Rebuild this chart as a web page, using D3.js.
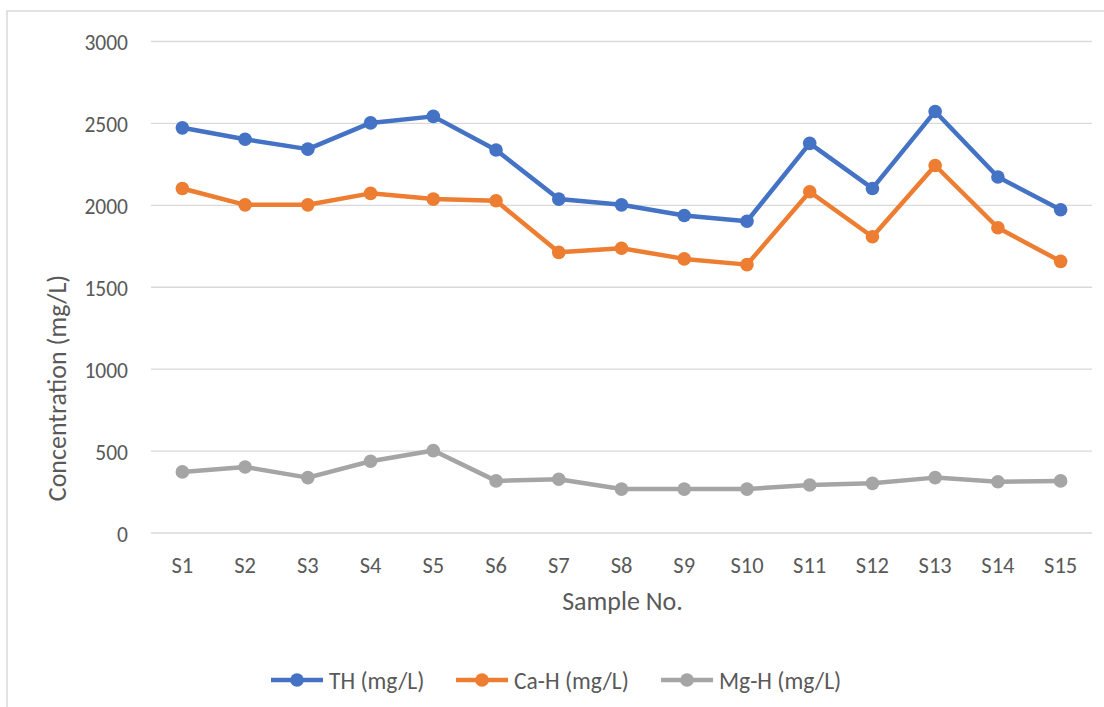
<!DOCTYPE html>
<html>
<head>
<meta charset="utf-8">
<script src="https://cdn.jsdelivr.net/npm/d3@7"></script>
<style>
  html, body { margin: 0; padding: 0; background: #ffffff; }
  svg { display: block; }
  text { font-family: Carlito, Calibri, Lato, sans-serif; fill: #595959; }
</style>
</head>
<body>
<svg id="chart" width="1104" height="707"></svg>
<script>
// Hardness of water samples S1–S15
const samples = ["S1","S2","S3","S4","S5","S6","S7","S8","S9","S10","S11","S12","S13","S14","S15"];
const totalHardness = [2470, 2400, 2340, 2500, 2540, 2335, 2035, 2000, 1935, 1900, 2375, 2100, 2570, 2170, 1970];
const calciumHardness = [2100, 2000, 2000, 2070, 2035, 2025, 1710, 1735, 1670, 1635, 2080, 1805, 2240, 1860, 1655];
const magnesiumHardness = [370, 400, 335, 435, 500, 315, 325, 265, 265, 265, 290, 300, 335, 310, 315];
const yTicks = [0, 500, 1000, 1500, 2000, 2500, 3000];
const seriesNames = ["TH (mg/L)", "Ca-H (mg/L)", "Mg-H (mg/L)"];
const seriesColors = ["#4472C4", "#ED7D31", "#A5A5A5"];

const series = [totalHardness, calciumHardness, magnesiumHardness].map((values, i) => ({
  name: seriesNames[i],
  color: seriesColors[i],
  values: values
}));

const svg = d3.select("#chart");
const fontStack = "Carlito, Calibri, Lato, sans-serif";

// chart area frame
svg.append("rect")
  .attr("x", 7).attr("y", 11)
  .attr("width", 1120).attr("height", 720)
  .attr("fill", "#ffffff")
  .attr("stroke", "#D9D9D9")
  .attr("stroke-width", 1.5);

const plot = { left: 151, right: 1092, top: 41, bottom: 532.5 };

const x = d3.scaleBand().domain(samples).range([plot.left, plot.right]);
const y = d3.scaleLinear().domain([0, 3000]).range([plot.bottom, plot.top]);
const cx = s => x(s) + x.bandwidth() / 2;

// horizontal gridlines and value labels
const yAxis = d3.axisLeft(y)
  .tickValues(yTicks)
  .tickFormat(d3.format("d"))
  .tickSize(-(plot.right - plot.left))
  .tickPadding(23);
const gy = svg.append("g").attr("transform", `translate(${plot.left},0)`).call(yAxis);
gy.select(".domain").remove();
gy.selectAll(".tick line").attr("stroke", "#D9D9D9").attr("stroke-width", 1.4);
gy.selectAll(".tick text")
  .attr("font-size", "21.5px")
  .attr("dy", "0.4em")
  .style("font-family", fontStack)
  .attr("fill", "#595959");

// category labels
const xAxis = d3.axisBottom(x).tickSize(0).tickPadding(0);
const gx = svg.append("g").attr("transform", `translate(0,${plot.bottom})`).call(xAxis);
gx.select(".domain").remove();
gx.selectAll(".tick text")
  .attr("y", 40.5)
  .attr("dy", 0)
  .attr("font-size", "22.5px")
  .style("font-family", fontStack)
  .attr("fill", "#595959");

// axis titles
svg.append("text")
  .attr("x", (plot.left + plot.right) / 2 + 1)
  .attr("y", 610)
  .attr("text-anchor", "middle")
  .attr("font-size", "26px")
  .text("Sample No.");

svg.append("text")
  .attr("transform", `translate(66,388) rotate(-90)`)
  .attr("text-anchor", "middle")
  .attr("font-size", "26px")
  .text("Concentration (mg/L)");

// series lines and markers
const line = d3.line()
  .x((d, i) => cx(samples[i]))
  .y(d => y(d));

series.forEach(s => {
  const g = svg.append("g");
  g.append("path")
    .datum(s.values)
    .attr("d", line)
    .attr("fill", "none")
    .attr("stroke", s.color)
    .attr("stroke-width", 4.5)
    .attr("stroke-linejoin", "round")
    .attr("stroke-linecap", "round");
  g.selectAll("circle")
    .data(s.values)
    .join("circle")
    .attr("cx", (d, i) => cx(samples[i]))
    .attr("cy", d => y(d))
    .attr("r", 6.8)
    .attr("fill", s.color);
});

// legend
const legendY = 680;
const legendX = [271, 456, 661];
const legend = svg.append("g");
series.forEach((s, i) => {
  const g = legend.append("g").attr("transform", `translate(${legendX[i]},${legendY})`);
  g.append("line")
    .attr("x1", 0).attr("x2", 52)
    .attr("y1", 0).attr("y2", 0)
    .attr("stroke", s.color)
    .attr("stroke-width", 4.5);
  g.append("circle").attr("cx", 26).attr("cy", 0).attr("r", 6.8).attr("fill", s.color);
  g.append("text")
    .attr("x", 58)
    .attr("y", 0)
    .attr("dy", "0.37em")
    .attr("font-size", "23.5px")
    .text(s.name);
});
</script>
</body>
</html>
